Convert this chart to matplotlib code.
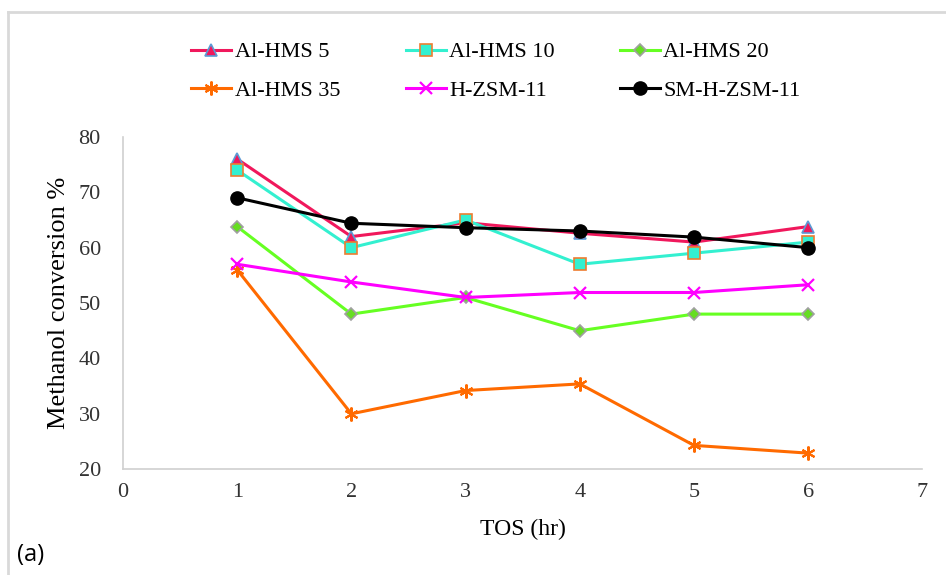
import matplotlib.pyplot as plt
from matplotlib.lines import Line2D

tos_hr = [1, 2, 3, 4, 5, 6]

al_hms_5 = [76.0, 62.0, 64.5, 62.6, 61.0, 63.8]
al_hms_10 = [74.0, 60.0, 65.0, 57.0, 59.0, 61.0]
al_hms_20 = [63.8, 48.0, 51.0, 45.0, 48.0, 48.0]
al_hms_35 = [56.0, 30.0, 34.2, 35.4, 24.3, 22.9]
h_zsm_11 = [57.0, 53.8, 51.0, 51.9, 51.9, 53.3]
sm_h_zsm_11 = [69.0, 64.4, 63.6, 63.0, 61.9, 60.0]

x_ticks = [0, 1, 2, 3, 4, 5, 6, 7]
y_ticks = [20, 30, 40, 50, 60, 70, 80]

serif = ["Liberation Serif", "DejaVu Serif"]

fig = plt.figure(figsize=(9.46, 5.75), dpi=100)
ax = fig.add_axes([0.130, 0.184, 0.845, 0.578])

series = [
    ("Al-HMS 5", al_hms_5, dict(color="#F0185C", marker="^", mfc="#F0185C", mec="#5B9BD5", ms=9, mew=1.2)),
    ("Al-HMS 10", al_hms_10, dict(color="#33F0D0", marker="s", mfc="#33F0D0", mec="#ED7D31", ms=8.5, mew=1.2)),
    ("Al-HMS 20", al_hms_20, dict(color="#66FF22", marker="D", mfc="#66DD22", mec="#A0A0A0", ms=6.5, mew=1.2)),
    ("Al-HMS 35", al_hms_35, dict(color="#FF6A00", marker=(6, 2, 0), mfc="#FF6A00", mec="#FF6A00", ms=10, mew=1.5)),
    ("H-ZSM-11", h_zsm_11, dict(color="#FF00FF", marker="x", mfc="#FF00FF", mec="#FF00FF", ms=9, mew=1.6)),
    ("SM-H-ZSM-11", sm_h_zsm_11, dict(color="#000000", marker="o", mfc="#000000", mec="#000000", ms=9.5, mew=1.0)),
]

handles = []
for label, values, style in series:
    (line,) = ax.plot(tos_hr, values, lw=2.2, label=label, **style)
    handles.append(line)

ax.set_xlim(0, 7)
ax.set_ylim(20, 80)
ax.set_xticks(x_ticks)
ax.set_yticks(y_ticks)
ax.tick_params(length=0, labelsize=16, labelcolor="#333333")
ax.tick_params(axis="y", pad=16)
ax.tick_params(axis="x", pad=10)
for lab in ax.get_xticklabels() + ax.get_yticklabels():
    lab.set_family(serif)

for side in ["top", "right"]:
    ax.spines[side].set_visible(False)
for side in ["left", "bottom"]:
    ax.spines[side].set_color("#D0D0D0")
    ax.spines[side].set_linewidth(1.2)

ax.set_xlabel("TOS (hr)", family=serif, fontsize=17, labelpad=12)
ax.set_ylabel("Methanol conversion %", family=serif, fontsize=19, labelpad=6)

# matplotlib fills legend columns first, so reorder to read row by row
order = [0, 3, 1, 4, 2, 5]
fig.legend(
    handles=[handles[i] for i in order],
    loc="upper left",
    bbox_to_anchor=(0.181, 0.962),
    ncol=3,
    frameon=False,
    prop={"family": serif, "size": 16},
    handlelength=1.8,
    handletextpad=0.15,
    columnspacing=2.95,
    labelspacing=0.8,
)

fig.text(0.018, 0.025, "(a)", fontsize=17, family=["Open Sans", "DejaVu Sans"])

# light grey frame around the figure, open on the right and bottom
fig.add_artist(Line2D([0.0085, 0.0085], [0.0, 0.979], transform=fig.transFigure, color="#D9D9D9", lw=2))
fig.add_artist(Line2D([0.0085, 1.0], [0.979, 0.979], transform=fig.transFigure, color="#D9D9D9", lw=2))

fig.savefig("out.png", dpi=100)
